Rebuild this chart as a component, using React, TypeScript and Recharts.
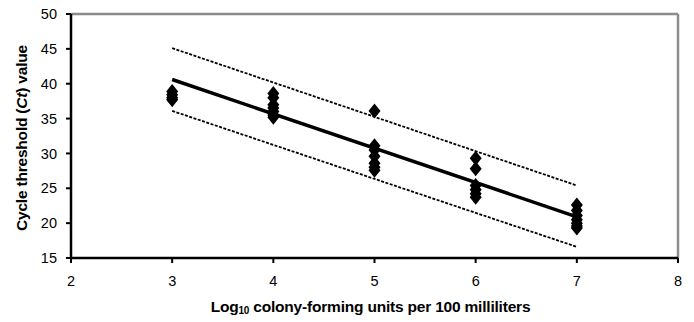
import React from "react";
import {
  ComposedChart,
  Line,
  Scatter,
  XAxis,
  YAxis,
  ReferenceLine,
} from "recharts";

const xTicks = [2, 3, 4, 5, 6, 7, 8];
const yTicks = [15, 20, 25, 30, 35, 40, 45, 50];

const observedX = [
  3, 3, 3, 3,
  4, 4, 4, 4, 4, 4, 4,
  5, 5, 5, 5, 5, 5, 5,
  6, 6, 6, 6, 6, 6,
  7, 7, 7, 7, 7, 7, 7,
];
const observedCt = [
  38.9, 38.4, 38.0, 37.7,
  38.6, 38.0, 37.0, 36.5, 36.0, 35.5, 35.2,
  36.1, 31.1, 30.5, 29.6, 28.6, 28.0, 27.6,
  29.3, 27.8, 25.4, 24.8, 24.2, 23.7,
  22.6, 21.8, 21.1, 20.5, 20.0, 19.6, 19.3,
];

const fitX = [3, 7];
const fitCt = [40.6, 20.9];
const upperCt = [45.1, 25.4];
const lowerCt = [36.1, 16.6];

const points = observedX.map((x, i) => ({ x, y: observedCt[i] }));
const fitData = fitX.map((x, i) => ({ x, y: fitCt[i] }));
const upperData = fitX.map((x, i) => ({ x, y: upperCt[i] }));
const lowerData = fitX.map((x, i) => ({ x, y: lowerCt[i] }));

const FONT = "'Liberation Sans', Arial, sans-serif";

const Diamond = (props: any) => {
  const { cx, cy } = props;
  if (cx == null || cy == null) return null;
  const w = 6;
  const h = 7.5;
  return (
    <path
      d={`M${cx},${cy - h} L${cx + w},${cy} L${cx},${cy + h} L${cx - w},${cy} Z`}
      fill="#000"
    />
  );
};

const XLabel = (props: any) => {
  const vb = props.viewBox || {};
  const cx = vb.x + vb.width / 2;
  return (
    <text
      x={cx - 4}
      y={312}
      textAnchor="middle"
      fontFamily={FONT}
      fontWeight="bold"
      fontSize={15.5}
      letterSpacing={-0.2}
      fill="#000"
    >
      <tspan>Log</tspan>
      <tspan fontSize={10} dy={2}>10</tspan>
      <tspan dy={-2}> colony-forming units per 100 milliliters</tspan>
    </text>
  );
};

const YLabel = (props: any) => {
  const vb = props.viewBox || {};
  const cy = vb.y + vb.height / 2 + 2;
  const x = 27;
  return (
    <text
      x={x}
      y={cy}
      transform={`rotate(-90, ${x}, ${cy})`}
      textAnchor="middle"
      fontFamily={FONT}
      fontWeight="bold"
      fontSize={15.5}
      letterSpacing={-0.2}
      fill="#000"
    >
      <tspan>Cycle threshold (</tspan>
      <tspan fontStyle="italic">Ct</tspan>
      <tspan>) value</tspan>
    </text>
  );
};

export default function App() {
  return (
    <div style={{ position: "absolute", left: 0, top: 0, background: "#fff" }}>
      <ComposedChart
        width={694}
        height={322}
        margin={{ top: 14, right: 16, left: 0, bottom: 0 }}
        style={{ fontFamily: FONT }}
      >
        <XAxis
          dataKey="x"
          type="number"
          domain={[2, 8]}
          ticks={xTicks}
          allowDuplicatedCategory={false}
          height={64}
          stroke="#000"
          axisLine={{ stroke: "#000", strokeWidth: 2.5 }}
          tickLine={{ stroke: "#000", strokeWidth: 2 }}
          tickSize={5}
          tick={{ fill: "#000", fontSize: 14.5, fontFamily: FONT, dy: 11 }}
          label={<XLabel />}
        />
        <YAxis
          dataKey="y"
          type="number"
          domain={[15, 50]}
          ticks={yTicks}
          width={71}
          stroke="#000"
          axisLine={{ stroke: "#000", strokeWidth: 2.5 }}
          tickLine={{ stroke: "#000", strokeWidth: 2 }}
          tickSize={5}
          tick={{ fill: "#000", fontSize: 14.5, fontFamily: FONT, dx: -7 }}
          label={<YLabel />}
        />
        <ReferenceLine y={50} stroke="#8c8c8c" strokeWidth={2.5} />
        <ReferenceLine x={8} stroke="#8c8c8c" strokeWidth={2.5} />
        <Line
          data={upperData}
          dataKey="y"
          stroke="#000"
          strokeWidth={1.8}
          strokeDasharray="3 1.5"
          dot={false}
          isAnimationActive={false}
        />
        <Line
          data={lowerData}
          dataKey="y"
          stroke="#000"
          strokeWidth={1.8}
          strokeDasharray="3 1.5"
          dot={false}
          isAnimationActive={false}
        />
        <Line
          data={fitData}
          dataKey="y"
          stroke="#000"
          strokeWidth={3.5}
          dot={false}
          isAnimationActive={false}
        />
        <Scatter
          data={points}
          dataKey="y"
          shape={<Diamond />}
          isAnimationActive={false}
        />
      </ComposedChart>
    </div>
  );
}
